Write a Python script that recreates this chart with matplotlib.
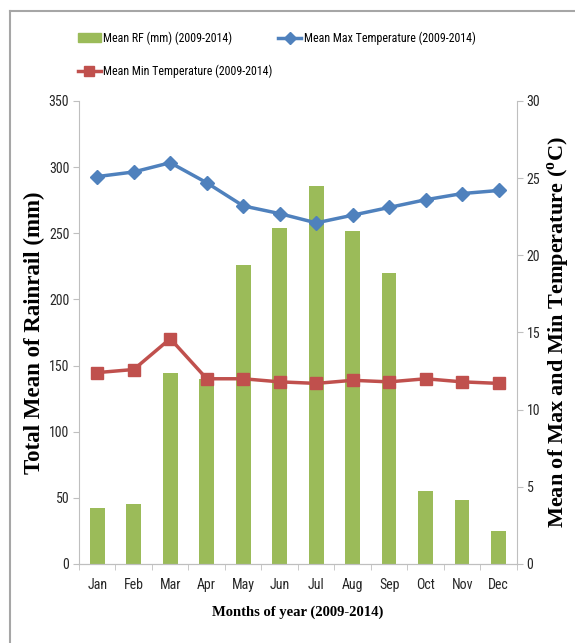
import matplotlib.pyplot as plt
import numpy as np
from matplotlib.lines import Line2D
from matplotlib import font_manager

months = ['Jan', 'Feb', 'Mar', 'Apr', 'May', 'Jun', 'Jul', 'Aug', 'Sep', 'Oct', 'Nov', 'Dec']
rainfall = [42, 45, 144, 140, 226, 254, 286, 252, 220, 55, 48, 25]
max_temp = [25.1, 25.4, 26.0, 24.7, 23.2, 22.7, 22.1, 22.6, 23.1, 23.6, 24.0, 24.2]
min_temp = [12.4, 12.6, 14.6, 12.0, 12.0, 11.8, 11.7, 11.9, 11.8, 12.0, 11.8, 11.7]

installed = {f.name for f in font_manager.fontManager.ttflist}
narrow = [f for f in ['Liberation Sans Narrow', 'Roboto Condensed', 'Open Sans Condensed',
                      'DejaVu Sans Condensed'] if f in installed]
tick_font = narrow + ['Liberation Sans', 'DejaVu Sans']
label_font = ['Liberation Serif', 'DejaVu Serif']
small = 10 if narrow else 8.5

plt.rcParams['mathtext.fontset'] = 'custom'
plt.rcParams['mathtext.rm'] = 'Liberation Serif:bold'

fig = plt.figure(figsize=(5.75, 6.43), dpi=100)
ax = fig.add_axes([0.1374, 0.1229, 0.7616, 0.7201])
ax2 = ax.twinx()

x = np.arange(len(months))
ax.bar(x, rainfall, width=0.4, color='#9BBB59', zorder=2)
ax2.plot(x, max_temp, color='#4F81BD', lw=2.5, marker='D', ms=7, zorder=3)
ax2.plot(x, min_temp, color='#C0504D', lw=2.5, marker='s', ms=8, zorder=3)

ax.set_xlim(-0.5, 11.5)
ax.set_ylim(0, 350)
ax2.set_ylim(0, 30)
ax.set_yticks(range(0, 351, 50))
ax2.set_yticks(range(0, 31, 5))
ax.set_xticks(x)
ax.set_xticklabels(months)
ax.set_xticks(np.arange(-0.5, 12, 1), minor=True)
ax.tick_params(axis='x', which='major', length=0, pad=10)
ax.tick_params(axis='x', which='minor', length=4, color='#BFBFBF')
ax.tick_params(axis='y', length=4, color='#BFBFBF', pad=3)
ax2.tick_params(axis='y', length=4, color='#BFBFBF', pad=3)

for a in (ax, ax2):
    a.spines['top'].set_visible(False)
    for s in ('left', 'right', 'bottom'):
        a.spines[s].set_color('#BFBFBF')
    for lab in a.get_xticklabels() + a.get_yticklabels():
        lab.set_family(tick_font)
        lab.set_fontsize(small)
        lab.set_color('#262626')
ax.spines['right'].set_visible(False)
ax2.spines['left'].set_visible(False)

ax.set_ylabel('Total Mean of Rainrail (mm)', family=label_font, fontweight='bold',
              fontsize=16.5, labelpad=3)
ax2.set_ylabel(r'Mean of Max and Min Temperature ($^{\rm o}$C)', family=label_font,
               fontweight='bold', fontsize=16, labelpad=4)
ax.set_xlabel('Months of year (2009-2014)', family=label_font, fontweight='bold',
              fontsize=10.5, labelpad=10)

h_rf = plt.Rectangle((0, 0), 1, 1, color='#9BBB59')
h_max = Line2D([], [], color='#4F81BD', lw=2.5, marker='D', ms=6)
h_min = Line2D([], [], color='#C0504D', lw=2.5, marker='s', ms=7)
fig.legend([h_rf, h_min, h_max],
           ['Mean RF (mm) (2009-2014)', 'Mean Min Temperature (2009-2014)',
            'Mean Max Temperature (2009-2014)'],
           ncol=2, loc='upper left', bbox_to_anchor=(0.117, 0.968), frameon=False,
           prop={'family': tick_font, 'size': 8.6}, handlelength=1.9,
           handletextpad=0.2, columnspacing=0.5, labelspacing=1.65)

# outer frame
fig.add_artist(Line2D([0.017, 0.017], [0, 0.983], color='#A6A6A6', lw=1.5))
fig.add_artist(Line2D([0.017, 1.0], [0.983, 0.983], color='#A6A6A6', lw=1.5))

fig.savefig('out.png', dpi=100)
